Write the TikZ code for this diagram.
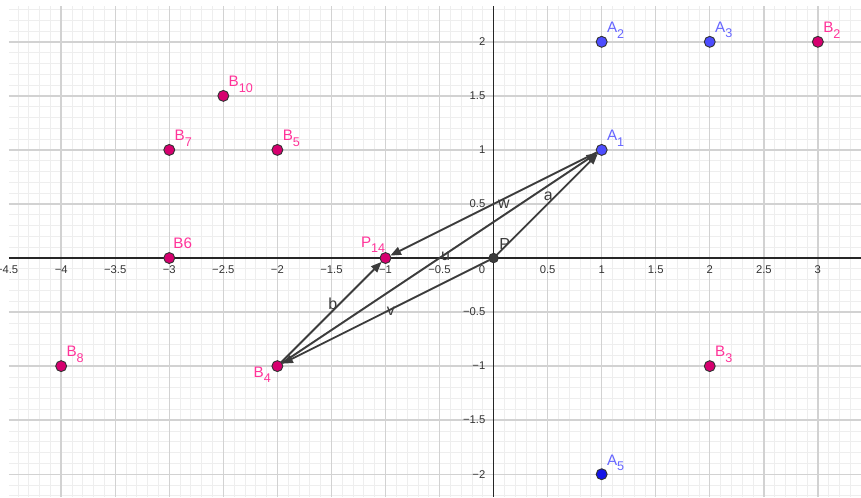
\documentclass[tikz,border=0pt]{standalone}
\usepackage{fontspec}
\setmainfont{Liberation Sans}
\usetikzlibrary{arrows.meta, positioning}
\usepackage{xcolor}

\definecolor{ptpink}{HTML}{D6006F}
\definecolor{lblpink}{HTML}{FF3399}
\definecolor{ptblue}{HTML}{4D4DFF}
\definecolor{ptdeepblue}{HTML}{1414E6}
\definecolor{lblblue}{HTML}{6666FF}
\definecolor{vecgray}{HTML}{3C3C3C}
\definecolor{gridmajor}{HTML}{D2D2D2}
\definecolor{gridminor}{HTML}{EEEEEE}

\newcommand{\lsub}[1]{\raisebox{-3.5pt}{\fontsize{8.3}{10}\selectfont #1}}

\tikzset{
  dot/.style={circle, draw=black!80, line width=0.6pt, inner sep=0pt, outer sep=0pt, minimum size=7.2pt},
  ptA/.style={dot, fill=ptblue},
  ptB/.style={dot, fill=ptpink},
  ptP/.style={dot, fill=vecgray, minimum size=6.2pt},
  lblA/.style={text=lblblue, inner sep=0pt, font=\fontsize{10}{12}\selectfont},
  lblB/.style={text=lblpink, inner sep=0pt, font=\fontsize{10}{12}\selectfont},
  vec/.style={draw=vecgray, line width=1.25pt, -{Triangle[length=7pt, width=5.5pt]}},
  vlbl/.style={text=vecgray, inner sep=0pt, font=\fontsize{10.5}{12}\selectfont},
  ticklbl/.style={text=black!80, inner sep=0pt, font=\fontsize{7.4}{9}\selectfont}
}

\begin{document}
\begin{tikzpicture}[x=2.5cm, y=2.5cm]
  \useasboundingbox (-4.566,-2.211) rectangle (3.399,2.387);
  \clip (-4.566,-2.211) rectangle (3.399,2.387);

  % grid and axes
  \draw[gridminor, line width=0.5pt, step=0.1] (-4.483,-2.211) grid (3.399,2.333);
  \draw[gridmajor, line width=0.9pt, step=0.5] (-4.483,-2.211) grid (3.399,2.333);
  \draw[black!85, line width=1pt] (-4.483,0) -- (3.399,0);
  \draw[black!85, line width=1pt] (0,-2.211) -- (0,2.333);

  % tick labels
  \foreach \x/\t [count=\i] in {-4.5/−4.5, -4/−4, -3.5/−3.5, -3/−3, -2.5/−2.5, -2/−2,
      -1.5/−1.5, -1/−1, -0.5/−0.5, 0.5/0.5, 1/1, 1.5/1.5, 2/2, 2.5/2.5, 3/3}
    \node[ticklbl, anchor=north] (xl\i) at (\x,-0.065) {\t};
  \foreach \y/\t [count=\i] in {-2/−2, -1.5/−1.5, -1/−1, -0.5/−0.5, 0.5/0.5, 1/1, 1.5/1.5, 2/2}
    \node[ticklbl, anchor=east] (yl\i) at (-0.074,\y) {\t};
  \node[ticklbl, anchor=north east] (zero) at (-0.075,-0.065) {0};

  % points
  \node[ptA] (A1) at (1,1) {};
  \node[ptA] (A2) at (1,2) {};
  \node[ptA] (A3) at (2,2) {};
  \node[ptA, fill=ptdeepblue] (A5) at (1,-2) {};
  \node[ptB] (B2) at (3,2) {};
  \node[ptB] (B3) at (2,-1) {};
  \node[ptB] (B4) at (-2,-1) {};
  \node[ptB] (B5) at (-2,1) {};
  \node[ptB] (B6) at (-3,0) {};
  \node[ptB] (B7) at (-3,1) {};
  \node[ptB] (B8) at (-4,-1) {};
  \node[ptB] (B10) at (-2.5,1.5) {};
  \node[ptB] (P14) at (-1,0) {};
  \node[ptP] (P) at (0,0) {};

  % point labels
  \node[lblA, above right=-0.3pt and 0.8pt of A1] (lA1) {A\lsub{1}};
  \node[lblA, above right=-0.3pt and 0.8pt of A2] (lA2) {A\lsub{2}};
  \node[lblA, above right=-0.3pt and 0.8pt of A3] (lA3) {A\lsub{3}};
  \node[lblA, above right=-0.3pt and 0.8pt of A5] (lA5) {A\lsub{5}};
  \node[lblB, above right=-0.3pt and 0.8pt of B2] (lB2) {B\lsub{2}};
  \node[lblB, above right=-0.3pt and 0.8pt of B3] (lB3) {B\lsub{3}};
  \node[lblB, below left=-2.25pt and 1.55pt of B4] (lB4) {B\lsub{4}};
  \node[lblB, above right=-0.3pt and 0.8pt of B5] (lB5) {B\lsub{5}};
  \node[lblB, above right=3.4pt and 0pt of B6] (lB6) {B6};
  \node[lblB, above right=-0.3pt and 0.8pt of B7] (lB7) {B\lsub{7}};
  \node[lblB, above right=-0.3pt and 0.8pt of B8] (lB8) {B\lsub{8}};
  \node[lblB, above right=-0.3pt and 0.8pt of B10] (lB10) {B\lsub{10}};
  \node[lblB, above left=0.75pt and -2.55pt of P14] (lP14) {P\lsub{14}};
  \node[vlbl, above right=3.1pt and 1.4pt of P] (lP) {P};

  % vectors
  \draw[vec] (P) -- (A1);
  \draw[vec] (A1) -- (P14);
  \draw[vec] (B4) -- (P14);
  \draw[vec] (B4) -- (A1);
  \draw[vec] (P) -- (B4);

  \node[vlbl] (la) at (0.506,0.568) {a};
  \node[vlbl] (lw) at (0.096,0.5) {w};
  \node[vlbl] (lu) at (-0.443,0.012) {u};
  \node[vlbl] (lv) at (-0.949,-0.49) {v};
  \node[vlbl] (lb) at (-1.488,-0.42) {b};
\end{tikzpicture}
\end{document}
